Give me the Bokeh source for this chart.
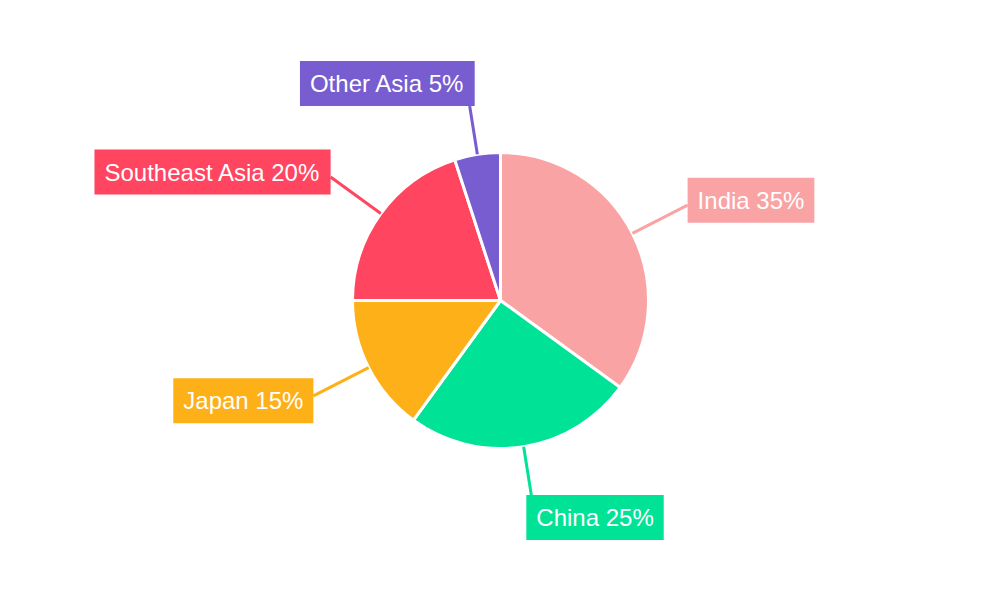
import math
from bokeh.plotting import figure
from bokeh.models import ColumnDataSource
from bokeh.core.properties import value
from bokeh.embed import file_html
from bokeh.resources import INLINE

regions = ["India", "China", "Japan", "Southeast Asia", "Other Asia"]
shares = [35, 25, 15, 20, 5]
colors = ["#F9A3A4", "#00E396", "#FEB019", "#FF4560", "#775DD0"]

# plot drawn in reference pixels, y flipped so y goes up
cx, cy, r = 500, 300, 148

p = figure(width=984, height=584, x_range=(0, 984), y_range=(16, 600),
           output_backend="svg", toolbar_location=None, min_border=0)
p.axis.visible = False
p.grid.visible = False
p.outline_line_color = None

total = sum(shares)
starts, ends, mids = [], [], []
cum = 0
for s in shares:
    a0 = math.pi / 2 - 2 * math.pi * cum / total
    cum += s
    a1 = math.pi / 2 - 2 * math.pi * cum / total
    starts.append(a0)
    ends.append(a1)
    mids.append((a0 + a1) / 2)

src = ColumnDataSource(dict(start=starts, end=ends, color=colors))
p.wedge(x=cx, y=cy, radius=r, start_angle="start", end_angle="end",
        direction="clock", fill_color="color", line_color="white",
        line_width=3, source=src)

# leader lines and labels
lx0, ly0, lx1, ly1 = [], [], [], []
tx, ty, align, base, xo, yo, texts = [], [], [], [], [], [], []
for name, s, m in zip(regions, shares, mids):
    c, sn = math.cos(m), math.sin(m)
    vertical = abs(sn) > 0.9
    rr = 197 if vertical else 210
    ax, ay = cx + rr * c, cy + rr * sn
    lx0.append(cx + r * c)
    ly0.append(cy + r * sn)
    lx1.append(ax)
    ly1.append(ay)
    tx.append(ax)
    ty.append(ay)
    texts.append(f"{name} {s}%")
    if vertical:
        align.append("left" if c > 0 else "right")
        base.append("top" if sn < 0 else "bottom")
        xo.append(-5 if c > 0 else 5)
        yo.append(0)
    else:
        align.append("left" if c > 0 else "right")
        base.append("middle")
        xo.append(0)
        yo.append(-5 if sn > 0 else 5)

p.segment(x0=lx0, y0=ly0, x1=lx1, y1=ly1, line_color=colors, line_width=3)

lsrc = ColumnDataSource(dict(x=tx, y=ty, text=texts, align=align, base=base,
                             xo=xo, yo=yo, color=colors))
p.text(x="x", y="y", text="text", text_align="align", text_baseline="base",
       x_offset="xo", y_offset="yo", text_color="white",
       text_font=value("Liberation Sans"), text_font_size="24px",
       background_fill_color="color", padding=(10, 9), source=lsrc)

open("out.html", "w").write(file_html(p, INLINE))
